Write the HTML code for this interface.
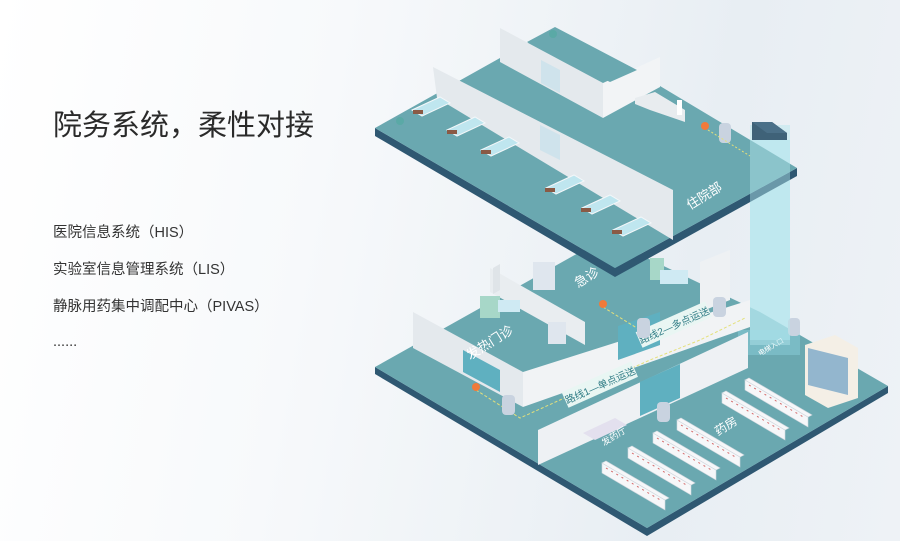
<!DOCTYPE html>
<html><head><meta charset="utf-8"><style>
html,body{margin:0;padding:0;}
body{width:900px;height:541px;overflow:hidden;position:relative;font-family:"Liberation Sans","Noto Sans CJK SC",sans-serif;
background:linear-gradient(100deg,#ffffff 0%,#f7f9fb 35%,#e8eef3 75%,#eef2f6 100%);}
.t{position:absolute;left:53px;color:#333;}
h1{position:absolute;left:53px;top:102px;margin:0;font-weight:normal;font-size:29px;color:#2a2a2a;font-family:"Liberation Sans","Noto Sans CJK SC",sans-serif;letter-spacing:0}
.i{font-size:14.5px;}
svg{position:absolute;left:0;top:0}
</style></head><body>
<h1>院务系统，柔性对接</h1>
<div class="t i" style="top:221px">医院信息系统（HIS）</div>
<div class="t i" style="top:258px">实验室信息管理系统（LIS）</div>
<div class="t i" style="top:295px">静脉用药集中调配中心（PIVAS）</div>
<div class="t i" style="top:334px">......</div>
<svg width="900" height="541" viewBox="0 0 900 541" font-family="Liberation Sans,Noto Sans CJK SC,sans-serif">
<!-- LOWER FLOOR -->
<polygon points="375,367 647,528 888,386 888,393 647,536 375,374" fill="#2f5872"/>
<polygon points="375,367 605,238 760,312 888,386 647,528" fill="#6aa8b0"/>
<!-- elevator shaft lower -->
<polygon points="750,140 790,140 790,340 750,340" fill="#b3e6ee" opacity="0.6"/>
<polygon points="738,330 800,330 800,355 738,355" fill="#8fd3df" opacity="0.45"/>
<!-- fever clinic left wall -->
<polygon points="413,312 523,372 523,407 413,348" fill="#e4e9ed"/>
<polygon points="463,350 500,370 500,392 463,372" fill="#5fb0c0"/>
<!-- partition 发热/急诊 -->
<polygon points="490,268 585,322 585,345 490,292" fill="#e9edf0"/>
<polygon points="493,268 500,264 500,290 493,294" fill="#dfe4e8"/>
<!-- corridor wall A -->
<polygon points="523,372 750,300 750,327 523,407" fill="#f1f3f5"/>
<polygon points="618,326 660,312 660,345 618,360" fill="#5fb0c0"/>
<!-- 急诊 right wall -->
<polygon points="700,262 730,250 730,300 700,312" fill="#eef1f3"/>
<!-- pharmacy wall B -->
<polygon points="538,430 748,332 748,368 538,465" fill="#eef1f4"/>
<polygon points="640,382 680,364 680,398 640,416" fill="#5fb0c0"/>
<!-- route dashes -->
<polyline points="476,390 520,418 560,400 650,360 700,340 745,318" fill="none" stroke="#e4e07a" stroke-width="1" stroke-dasharray="3,2"/>
<polyline points="603,307 640,330" fill="none" stroke="#e4e07a" stroke-width="1" stroke-dasharray="3,2"/>
<!-- route labels -->
<g transform="translate(600,385) rotate(-24)"><rect x="-38" y="-9" width="76" height="17" fill="#e9f6f3"/><text x="0" y="4" font-size="10" text-anchor="middle" fill="#2f7c85">路线1—单点运送</text></g>
<g transform="translate(674,325) rotate(-24)"><rect x="-38" y="-9" width="76" height="17" fill="#e9f6f3"/><text x="0" y="4" font-size="10" text-anchor="middle" fill="#2f7c85">路线2—多点运送</text></g>
<!-- pins -->
<circle cx="476" cy="387" r="4" fill="#f07a3a"/><circle cx="603" cy="304" r="4" fill="#f07a3a"/>
<!-- robots -->
<g fill="#c9d3e0"><rect x="502" y="395" width="13" height="20" rx="4"/><rect x="657" y="402" width="13" height="20" rx="4"/><rect x="637" y="318" width="13" height="20" rx="4"/><rect x="713" y="297" width="13" height="20" rx="4"/><rect x="788" y="318" width="12" height="18" rx="4"/></g>
<!-- cabinet -->
<polygon points="805,345 835,335 858,348 858,398 828,408 805,395" fill="#f4efe6"/>
<polygon points="808,348 848,358 848,395 808,385" fill="#7aa7c8" opacity="0.8"/>
<!-- fever/ER equipment -->
<rect x="533" y="262" width="22" height="28" fill="#dfe6ee"/><rect x="548" y="322" width="18" height="22" fill="#dfe6ee"/>
<rect x="480" y="296" width="20" height="22" fill="#a7d7c8"/><rect x="498" y="300" width="22" height="12" fill="#cfeaf3"/>
<rect x="650" y="258" width="14" height="22" fill="#a7d7c8"/><rect x="660" y="270" width="28" height="14" fill="#cfeaf3"/>
<!-- 发药厅 desk -->
<polygon points="583,433 615,418 627,425 595,440" fill="#e3e0ee"/>
<!-- shelves -->
<g fill="#f6f7f9" stroke="#cfd7de" stroke-width="0.6">
<polygon points="602,463 665,500 665,510 602,473"/><polygon points="602,463 606,461 669,498 665,500"/>
<polygon points="628,448 691,485 691,495 628,458"/><polygon points="628,448 632,446 695,483 691,485"/>
<polygon points="653,433 716,470 716,480 653,443"/><polygon points="653,433 657,431 720,468 716,470"/>
<polygon points="677,420 740,457 740,467 677,430"/><polygon points="677,420 681,418 744,455 740,457"/>
<polygon points="722,393 785,430 785,440 722,403"/><polygon points="722,393 726,391 789,428 785,430"/>
<polygon points="745,380 808,417 808,427 745,390"/><polygon points="745,380 749,378 812,415 808,417"/>
</g>
<g stroke="#d46a6a" stroke-width="1" stroke-dasharray="2,4"><line x1="606" y1="468" x2="662" y2="501"/><line x1="632" y1="453" x2="688" y2="486"/><line x1="657" y1="438" x2="713" y2="471"/><line x1="681" y1="425" x2="737" y2="458"/><line x1="726" y1="398" x2="782" y2="431"/><line x1="749" y1="385" x2="805" y2="418"/></g>
<!-- lower labels -->
<text transform="translate(470,360) rotate(-32)" font-size="13" fill="#fff">发热门诊</text>
<text transform="translate(578,288) rotate(-32)" font-size="13" fill="#fff">急诊</text>
<text transform="translate(718,436) rotate(-32)" font-size="12" fill="#fff">药房</text>
<text transform="translate(604,446) rotate(-32)" font-size="9" fill="#fff">发药厅</text>
<text transform="translate(760,356) rotate(-30)" font-size="7" fill="#fff">电梯入口</text>

<!-- UPPER FLOOR -->
<polygon points="375,128 615,268 797,168 797,176 615,277 375,136" fill="#2f5872"/>
<polygon points="375,128 500,58 555,28 640,75 660,86 797,168 615,268" fill="#6aa8b0"/>
<!-- back room walls -->
<polygon points="500,28 603,83 603,118 500,62" fill="#e4e9ed"/>
<polygon points="603,83 660,57 660,87 603,118" fill="#f2f4f6"/>
<polygon points="527,42 555,27 637,70 610,82" fill="#6aa8b0"/>
<polygon points="541,60 560,70 560,93 541,83" fill="#cfe3ec"/>
<!-- long wall -->
<polygon points="433,67 673,190 673,240 437,98" fill="#e4e9ed"/>
<polygon points="540,125 560,135 560,160 540,150" fill="#cfe3ec"/>
<!-- nurse desk -->
<polygon points="635,98 655,92 685,110 685,122 650,110 635,104" fill="#e8ecef"/>
<rect x="677" y="100" width="5" height="15" fill="#fff"/>
<circle cx="705" cy="126" r="4" fill="#f07a3a"/>
<rect x="719" y="123" width="12" height="20" rx="4" fill="#c9d3e0"/>
<line x1="708" y1="130" x2="750" y2="156" stroke="#e4e07a" stroke-dasharray="2,2"/>
<!-- beds -->
<g fill="#bfe6ef" stroke="#f4f7f9" stroke-width="1">
<polygon points="412,110 440,97 450,103 422,116"/><polygon points="447,130 475,117 485,123 457,136"/><polygon points="481,150 509,137 519,143 491,156"/>
<polygon points="546,188 574,175 584,181 556,194"/><polygon points="582,208 610,195 620,201 592,214"/><polygon points="613,230 641,217 651,223 623,236"/>
</g>
<g fill="#8a5a45"><rect x="413" y="110" width="10" height="4"/><rect x="447" y="130" width="10" height="4"/><rect x="481" y="150" width="10" height="4"/><rect x="545" y="188" width="10" height="4"/><rect x="581" y="208" width="10" height="4"/><rect x="612" y="230" width="10" height="4"/></g>
<text transform="translate(690,210) rotate(-32)" font-size="13" fill="#fff">住院部</text>
<!-- elevator shaft top -->
<polygon points="750,125 790,125 790,345 750,345" fill="#b3e6ee" opacity="0.45"/>
<polygon points="752,122 772,122 787,133 787,140 752,140" fill="#3f6278"/>
<polygon points="752,122 772,122 787,133 767,133" fill="#4b7088"/>
<circle cx="553" cy="34" r="4" fill="#5aa9a6"/><circle cx="400" cy="121" r="4" fill="#5aa9a6"/>
</svg>
</body></html>
